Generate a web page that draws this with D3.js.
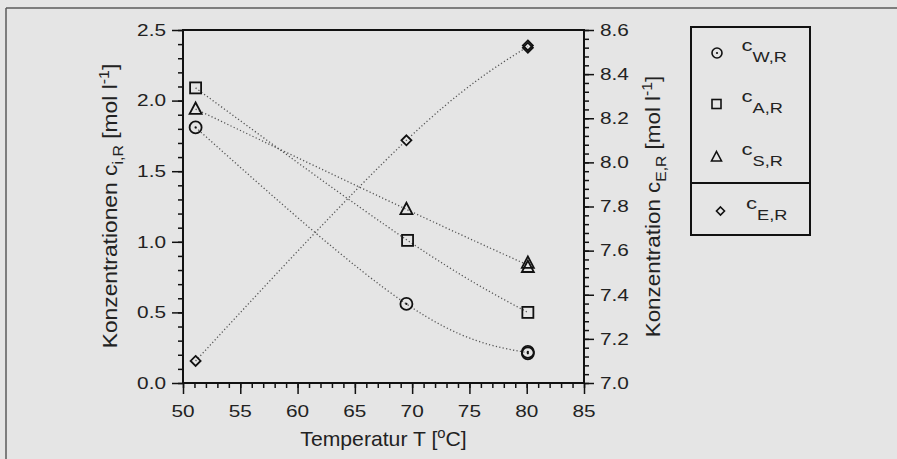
<!DOCTYPE html>
<html>
<head>
<meta charset="utf-8">
<script src="https://cdn.jsdelivr.net/npm/d3@7"></script>
<style>
  body { margin: 0; background: #e5e5e5; }
  text { font-family: "Liberation Sans", Arial, Helvetica, sans-serif; fill: #222; }
</style>
</head>
<body>
<svg id="chart" width="897" height="459"></svg>
<script>
// values
const tempW = [51.1, 69.5, 80.1, 80.1];
const concW = [1.81, 0.56, 0.21, 0.22];
const tempA = [51.1, 69.6, 80.1];
const concA = [2.09, 1.01, 0.50];
const tempS = [51.1, 69.5, 80.1, 80.1];
const concS = [1.94, 1.23, 0.85, 0.82];
const tempE = [51.1, 69.5, 80.1, 80.1];
const concE = [7.10, 8.10, 8.53, 8.52];

const xTicks = [50, 55, 60, 65, 70, 75, 80, 85];
const yTicks = [0.0, 0.5, 1.0, 1.5, 2.0, 2.5];
const y2Ticks = [7.0, 7.2, 7.4, 7.6, 7.8, 8.0, 8.2, 8.4, 8.6];
const legendNames = ["W,R", "A,R", "S,R", "E,R"];

const svg = d3.select("#chart");

// plot area
const pLeft = 183, pRight = 584, pTop = 30, pBottom = 383;

const x = d3.scaleLinear().domain([50, 85]).range([pLeft, pRight]);
const y = d3.scaleLinear().domain([0, 2.5]).range([pBottom, pTop]);
const y2 = d3.scaleLinear().domain([7.0, 8.6]).range([pBottom, pTop]);

// outer frame of the figure (only top and left edges show)
svg.append("line").attr("x1", 6).attr("y1", 8).attr("x2", 897).attr("y2", 8)
  .attr("stroke", "#5a5a5a").attr("stroke-width", 1.5);
svg.append("line").attr("x1", 6).attr("y1", 8).attr("x2", 6).attr("y2", 459)
  .attr("stroke", "#5a5a5a").attr("stroke-width", 1.5);

// text helper: the scanned lettering is wide, so stretch it horizontally
function label(g, px, py, str, size, sx, anchor, rot) {
  return g.append("text")
    .attr("transform", `translate(${px},${py})` + (rot ? ` rotate(${rot})` : "") + ` scale(${sx},1)`)
    .attr("text-anchor", anchor)
    .style("font-size", size + "px")
    .text(str);
}

// ticks (major + minor) with d3 axes
function ticks(gen, tx, ty) {
  const g = svg.append("g").attr("transform", `translate(${tx},${ty})`).call(gen);
  g.select(".domain").remove();
  g.selectAll("line").attr("stroke", "#111").attr("stroke-width", 1.5);
  return g;
}
ticks(d3.axisBottom(x).tickValues(d3.range(50, 85.01, 1)).tickSize(5).tickFormat(""), 0, pBottom);
ticks(d3.axisBottom(x).tickValues(xTicks).tickSize(11).tickFormat(""), 0, pBottom);
ticks(d3.axisLeft(y).tickValues(d3.range(0, 2.51, 0.1)).tickSize(5).tickFormat(""), pLeft, 0);
ticks(d3.axisLeft(y).tickValues(yTicks).tickSize(11).tickFormat(""), pLeft, 0);
ticks(d3.axisRight(y2).tickValues(d3.range(7.0, 8.601, 0.04)).tickSize(5).tickFormat(""), pRight, 0);
ticks(d3.axisRight(y2).tickValues(y2Ticks).tickSize(10).tickFormat(""), pRight, 0);

// tick labels
const f1 = d3.format(".1f");
xTicks.forEach(t => label(svg, x(t), 417, t, 16, 1.3, "middle"));
yTicks.forEach(t => label(svg, 166, y(t) + 5.8, f1(t), 16, 1.3, "end"));
y2Ticks.forEach(t => label(svg, 600, y2(t) + 5.8, f1(t), 16, 1.3, "start"));

// plot frame
svg.append("rect")
  .attr("x", pLeft).attr("y", pTop)
  .attr("width", pRight - pLeft).attr("height", pBottom - pTop)
  .attr("fill", "none").attr("stroke", "#111").attr("stroke-width", 2);

// axis titles
const xt = label(svg, x(67.5), 446, "Temperatur T [", 20, 1.06, "middle");
xt.append("tspan").attr("dy", -8).style("font-size", "14px").text("o");
xt.append("tspan").attr("dy", 8).text("C]");

const yt = label(svg, 117, 206, "Konzentrationen c", 20, 1.14, "middle", -90);
yt.append("tspan").attr("dy", 6).style("font-size", "14px").text("i,R");
yt.append("tspan").attr("dy", -6).text(" [mol l");
yt.append("tspan").attr("dy", -8).style("font-size", "14px").text("-1");
yt.append("tspan").attr("dy", 8).text("]");

const yt2 = label(svg, 660, 206.5, "Konzentration c", 20, 1.12, "middle", -90);
yt2.append("tspan").attr("dy", 6).style("font-size", "14px").text("E,R");
yt2.append("tspan").attr("dy", -6).text(" [mol l");
yt2.append("tspan").attr("dy", -8).style("font-size", "14px").text("-1");
yt2.append("tspan").attr("dy", 8).text("]");

// marker shapes
const markers = {
  circle: (g, s) => {
    g.append("circle").attr("r", s / 2).attr("fill", "none");
    g.append("circle").attr("r", 1.1).attr("fill", "#111").attr("stroke", "none");
  },
  square: (g, s) => g.append("rect").attr("x", -s / 2).attr("y", -s / 2)
    .attr("width", s).attr("height", s).attr("fill", "none"),
  triangle: (g, s) => g.append("path")
    .attr("d", `M0,${-s * 0.55}L${s / 2},${s * 0.4}L${-s / 2},${s * 0.4}Z`).attr("fill", "none"),
  diamond: (g, s) => g.append("path")
    .attr("d", `M0,${-s / 2}L${s / 2},0L0,${s / 2}L${-s / 2},0Z`).attr("fill", "none")
};

const series = [
  { t: tempW, c: concW, ys: y, shape: "circle", size: 12 },
  { t: tempA, c: concA, ys: y, shape: "square", size: 11 },
  { t: tempS, c: concS, ys: y, shape: "triangle", size: 12 },
  { t: tempE, c: concE, ys: y2, shape: "diamond", size: 10 }
];

series.forEach(s => {
  const pts = s.t.map((t, i) => [t, s.c[i]]);
  // one point per temperature for the dotted trend line
  const mean = d3.rollups(pts, v => d3.mean(v, d => d[1]), d => d[0]);
  const line = d3.line().x(d => x(d[0])).y(d => s.ys(d[1])).curve(d3.curveNatural);
  svg.append("path").datum(mean)
    .attr("d", line)
    .attr("fill", "none")
    .attr("stroke", "#555")
    .attr("stroke-width", 1.3)
    .attr("stroke-dasharray", "1.2,2.3");

  pts.forEach(p => {
    const g = svg.append("g")
      .attr("transform", `translate(${x(p[0])},${s.ys(p[1])})`)
      .attr("stroke", "#111").attr("stroke-width", 1.8);
    markers[s.shape](g, s.size);
  });
});

// legend
const lg = svg.append("g");
lg.append("rect").attr("x", 691).attr("y", 27).attr("width", 119).attr("height", 208)
  .attr("fill", "none").attr("stroke", "#111").attr("stroke-width", 2);
lg.append("line").attr("x1", 691).attr("x2", 810).attr("y1", 183).attr("y2", 183)
  .attr("stroke", "#111").attr("stroke-width", 2);

const rowY = [53, 104, 157, 211];
const rowX = [717, 716.5, 716.5, 720.5];
legendNames.forEach((name, i) => {
  const s = series[i];
  const g = lg.append("g")
    .attr("transform", `translate(${rowX[i]},${rowY[i]})`)
    .attr("stroke", "#111").attr("stroke-width", 1.6);
  markers[s.shape](g, s.size - 2);
  const t = label(lg, i === 3 ? 746 : 741.5, rowY[i] - 2, "c", 17, 1.3, "start");
  t.append("tspan").attr("dy", 11).style("font-size", "14px").text(name);
});
</script>
</body>
</html>
